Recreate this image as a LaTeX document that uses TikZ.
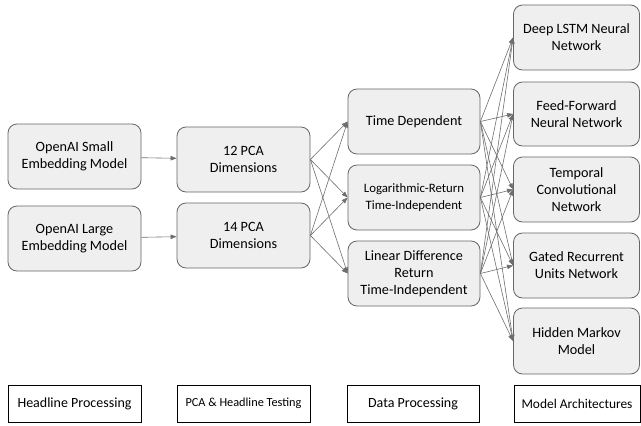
\documentclass[tikz,border=0pt]{standalone}
\usepackage{fontspec}
\setmainfont{Carlito}
\usetikzlibrary{arrows.meta}
\definecolor{boxfill}{HTML}{EFEFEF}
\definecolor{boxline}{HTML}{666666}
\definecolor{edgecol}{HTML}{6E6E6E}
\tikzset{
  box/.style={draw=boxline, fill=boxfill, line width=0.8pt, rounded corners=9pt,
    align=center, inner sep=2pt, font=\fontsize{14.2}{17}\selectfont},
  label/.style={draw=black, fill=white, line width=0.6pt, align=center, inner sep=1pt,
    minimum height=37pt},
  edge/.style={draw=edgecol, line width=0.6pt, -{Triangle[length=6pt,width=4.5pt]}}
}
\begin{document}
\begin{tikzpicture}[x=1pt,y=-1pt]
\useasboundingbox (0,0) rectangle (641,426);
% column 1
\node[box, minimum width=133pt, minimum height=65pt] (sm) at (74.5,156.5) {OpenAI Small\\Embedding Model};
\node[box, minimum width=133pt, minimum height=65pt] (lg) at (74.5,238.5) {OpenAI Large\\Embedding Model};
% column 2
\node[box, minimum width=133pt, minimum height=65pt] (p12) at (243.5,159.5) {12 PCA\\Dimensions};
\node[box, minimum width=133pt, minimum height=65pt] (p14) at (243.5,235.5) {14 PCA\\Dimensions};
% column 3
\node[box, minimum width=132pt, minimum height=65pt] (td) at (414,121.5) {Time Dependent};
\node[box, minimum width=132pt, minimum height=65pt, font=\fontsize{12.8}{17}\selectfont] (lr) at (414,197.5) {Logarithmic-Return\\Time-Independent};
\node[box, minimum width=132pt, minimum height=65pt] (ld) at (414,273.5) {Linear Difference\\Return\\Time-Independent};
% column 4
\node[box, minimum width=126pt, minimum height=65pt] (lstm) at (576.5,37.5) {Deep LSTM Neural\\Network};
\node[box, minimum width=126pt, minimum height=64pt] (ff) at (576.5,114) {Feed-Forward\\Neural Network};
\node[box, minimum width=126pt, minimum height=65pt] (tc) at (576.5,189.5) {Temporal\\Convolutional\\Network};
\node[box, minimum width=126pt, minimum height=65pt] (gru) at (576.5,265.5) {Gated Recurrent\\Units Network};
\node[box, minimum width=126pt, minimum height=66pt] (hmm) at (576.5,341) {Hidden Markov\\Model};
% bottom labels
\node[label, minimum width=133pt, font=\fontsize{14}{16}\selectfont] (l1) at (74.5,403.5) {Headline Processing};
\node[label, minimum width=133pt, font=\fontsize{12.3}{14}\selectfont] (l2) at (243.5,403.5) {PCA \& Headline Testing};
\node[label, minimum width=132pt, font=\fontsize{14}{16}\selectfont] (l3) at (413,403.5) {Data Processing};
\node[label, minimum width=126pt, font=\fontsize{13.4}{16}\selectfont] (l4) at (577,403.5) {Model Architectures};
% edges
\draw[edge] (sm) -- (p12);
\draw[edge] (lg) -- (p14);
\foreach \s in {p12,p14}{
  \foreach \t in {td,lr,ld}{
    \draw[edge] (\s.east) -- (\t.west);
  }
}
\foreach \s in {td,lr,ld}{
  \foreach \t in {lstm,ff,tc,gru,hmm}{
    \draw[edge] (\s.east) -- (\t.west);
  }
}
\end{tikzpicture}
\end{document}
